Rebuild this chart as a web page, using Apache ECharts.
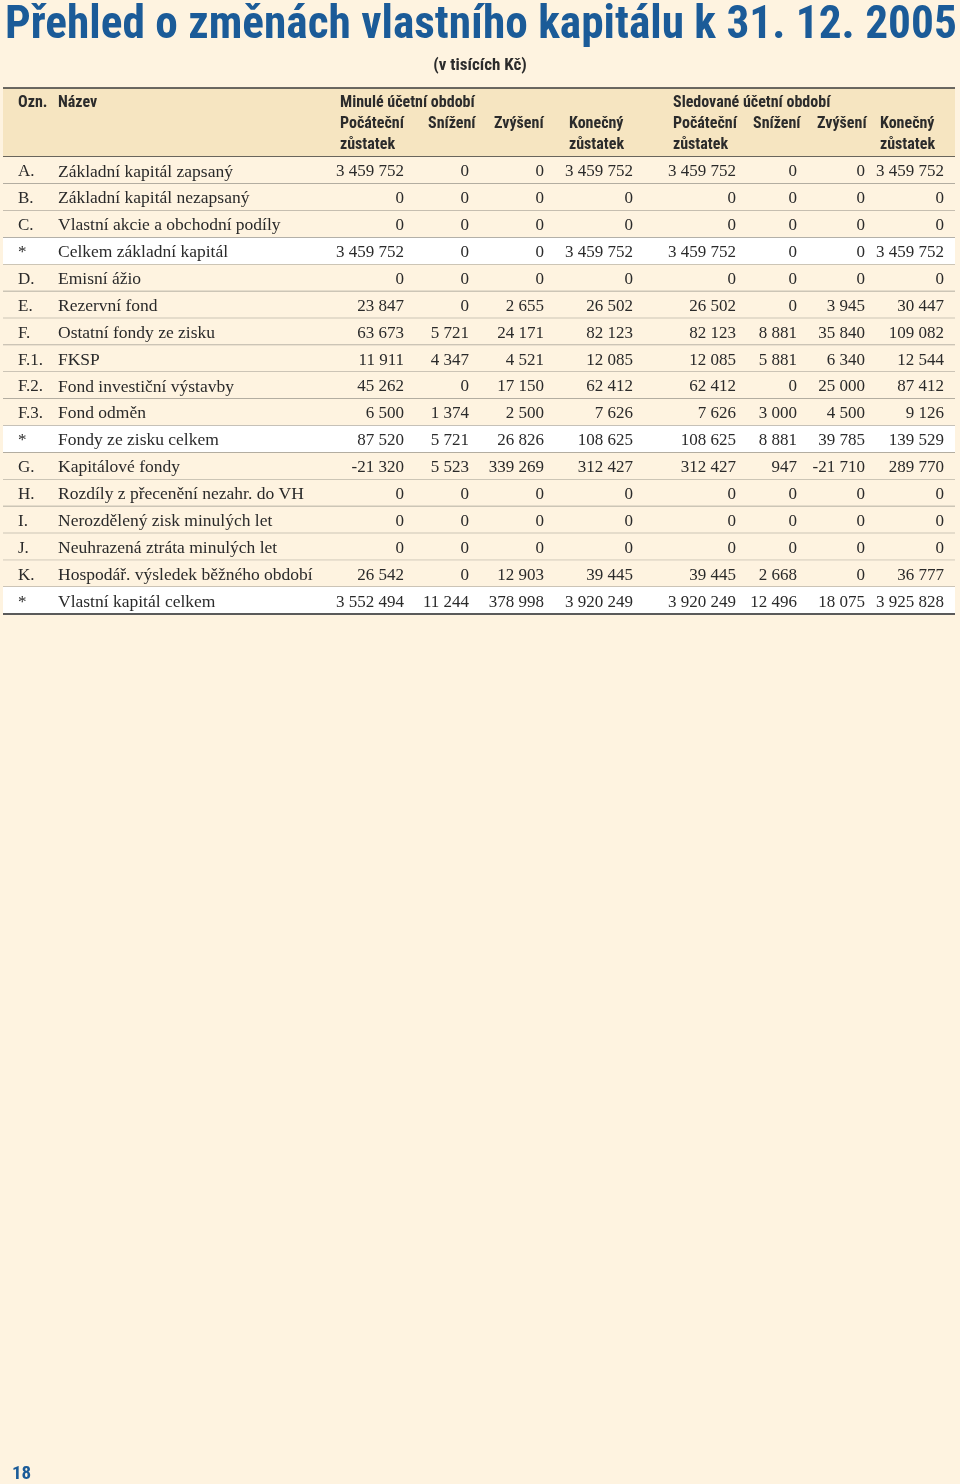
<!DOCTYPE html>
<html>
<head>
<meta charset="utf-8">
<script src="https://cdn.jsdelivr.net/npm/echarts@6/dist/echarts.min.js"></script>
<style>
  html, body { margin: 0; padding: 0; background: #fef3e0; }
  #chart { width: 960px; height: 1484px; }
</style>
</head>
<body>
<div id="chart"></div>
<script>
// data
const codes = ['A.', 'B.', 'C.', '*', 'D.', 'E.', 'F.', 'F.1.', 'F.2.', 'F.3.', '*', 'G.', 'H.', 'I.', 'J.', 'K.', '*'];
const names = [
  'Základní kapitál zapsaný', 'Základní kapitál nezapsaný', 'Vlastní akcie a obchodní podíly',
  'Celkem základní kapitál', 'Emisní ážio', 'Rezervní fond', 'Ostatní fondy ze zisku', 'FKSP',
  'Fond investiční výstavby', 'Fond odměn', 'Fondy ze zisku celkem', 'Kapitálové fondy',
  'Rozdíly z přecenění nezahr. do VH', 'Nerozdělený zisk minulých let', 'Neuhrazená ztráta minulých let',
  'Hospodář. výsledek běžného období', 'Vlastní kapitál celkem'
];
const minPoc  = [3459752, 0, 0, 3459752, 0, 23847, 63673, 11911, 45262, 6500, 87520, -21320, 0, 0, 0, 26542, 3552494];
const minSniz = [0, 0, 0, 0, 0, 0, 5721, 4347, 0, 1374, 5721, 5523, 0, 0, 0, 0, 11244];
const minZvys = [0, 0, 0, 0, 0, 2655, 24171, 4521, 17150, 2500, 26826, 339269, 0, 0, 0, 12903, 378998];
const minKon  = [3459752, 0, 0, 3459752, 0, 26502, 82123, 12085, 62412, 7626, 108625, 312427, 0, 0, 0, 39445, 3920249];
const sledPoc  = [3459752, 0, 0, 3459752, 0, 26502, 82123, 12085, 62412, 7626, 108625, 312427, 0, 0, 0, 39445, 3920249];
const sledSniz = [0, 0, 0, 0, 0, 0, 8881, 5881, 0, 3000, 8881, 947, 0, 0, 0, 2668, 12496];
const sledZvys = [0, 0, 0, 0, 0, 3945, 35840, 6340, 25000, 4500, 39785, -21710, 0, 0, 0, 0, 18075];
const sledKon  = [3459752, 0, 0, 3459752, 0, 30447, 109082, 12544, 87412, 9126, 139529, 289770, 0, 0, 0, 36777, 3925828];
const groupLabels = ['Minulé účetní období', 'Sledované účetní období'];
const colLabels = ['Počáteční', 'Snížení', 'Zvýšení', 'Konečný', 'Počáteční', 'Snížení', 'Zvýšení', 'Konečný'];
const colLabels2 = ['zůstatek', '', '', 'zůstatek', 'zůstatek', '', '', 'zůstatek'];

const columns = [minPoc, minSniz, minZvys, minKon, sledPoc, sledSniz, sledZvys, sledKon];

// layout
const numRight = [404, 469, 544, 633, 736, 797, 865, 944];
const headLeft = [340, 428, 494, 569, 673, 753, 817, 880];
const tableL = 3, tableR = 955;
const blue = '#1b5b98';
const headFont = '"Liberation Sans Narrow", "Roboto Condensed", Roboto, sans-serif';
const bodyFont = '"Liberation Serif", "DejaVu Serif", serif';

const fmt = v => {
  const s = String(Math.abs(v)).replace(/\B(?=(\d{3})+(?!\d))/g, ' ');
  return (v < 0 ? '-' : '') + s;
};

const chart = echarts.init(document.getElementById('chart'));

const headerText = [];
const hText = (t, left, top) => headerText.push({
  type: 'text', left: left, top: top, style: { text: t, font: 'bold 16px ' + headFont, fill: '#2b2b2b' }
});
hText('Ozn.', 18, 95);
hText('Název', 58, 95);
groupLabels.forEach((t, i) => hText(t, headLeft[i * 4], 95));
colLabels.forEach((t, i) => hText(t, headLeft[i], 116));
colLabels2.forEach((t, i) => t && hText(t, headLeft[i], 137));

const option = {
  backgroundColor: '#fef3e0',
  animation: false,
  title: {
    text: 'Přehled o změnách vlastního kapitálu k 31. 12. 2005',
    left: 0, top: -1,
    textStyle: { color: blue, fontSize: 45.3, fontWeight: 'bold', fontFamily: headFont }
  },
  graphic: [
    { type: 'text', left: 'center', top: 57, style: { text: '(v tisících Kč)', font: 'bold 17px ' + headFont, fill: '#2b2b2b' } },
    { type: 'rect', shape: { x: tableL, y: 88, width: tableR - tableL, height: 69 }, style: { fill: '#f6e5c1' }, z: -1 },
    { type: 'line', shape: { x1: tableL, y1: 88, x2: tableR, y2: 88 }, style: { stroke: '#3a3a3a', lineWidth: 1.5 } },
    { type: 'line', shape: { x1: tableL, y1: 157, x2: tableR, y2: 157 }, style: { stroke: '#3a3a3a', lineWidth: 1.5 } },
    { type: 'text', left: 12, top: 1465, style: { text: '18', font: 'bold 19px ' + headFont, fill: blue } }
  ].concat(headerText),
  grid: { left: 0, right: 0, top: 157, height: 457 },
  xAxis: { type: 'value', min: 0, max: 960, show: false },
  yAxis: { type: 'category', data: codes.map((c, i) => i), inverse: true, show: false },
  series: [{
    type: 'custom',
    data: codes.map((c, i) => [0, i]),
    renderItem: (params, api) => {
      const i = api.value(1);
      const c = api.coord([0, i]);
      const h = api.size([0, 1])[1];
      const top = c[1] - h / 2;
      const ty = c[1] + 1.5;
      const isTotal = codes[i] === '*';
      const last = i === codes.length - 1;
      const kids = [
        { type: 'rect', shape: { x: tableL, y: top, width: tableR - tableL, height: h },
          style: { fill: isTotal ? '#ffffff' : '#fef3e0' } },
        { type: 'line', shape: { x1: tableL, y1: top + h, x2: tableR, y2: top + h },
          style: { stroke: last ? '#5a5a5a' : '#9a968c', lineWidth: last ? 2 : 1.2 } },
        { type: 'text', x: 18, y: ty, style: { text: codes[i], font: '17px ' + bodyFont, fill: '#2a2a2a', verticalAlign: 'middle' } },
        { type: 'text', x: 58, y: ty, style: { text: names[i], font: '17.5px ' + bodyFont, fill: '#2a2a2a', verticalAlign: 'middle' } }
      ];
      columns.forEach((col, j) => kids.push({
        type: 'text', x: numRight[j], y: ty,
        style: { text: fmt(col[i]), font: '17px ' + bodyFont, fill: '#2a2a2a', align: 'right', verticalAlign: 'middle' }
      }));
      return { type: 'group', children: kids };
    }
  }]
};
chart.setOption(option);
</script>
</body>
</html>
